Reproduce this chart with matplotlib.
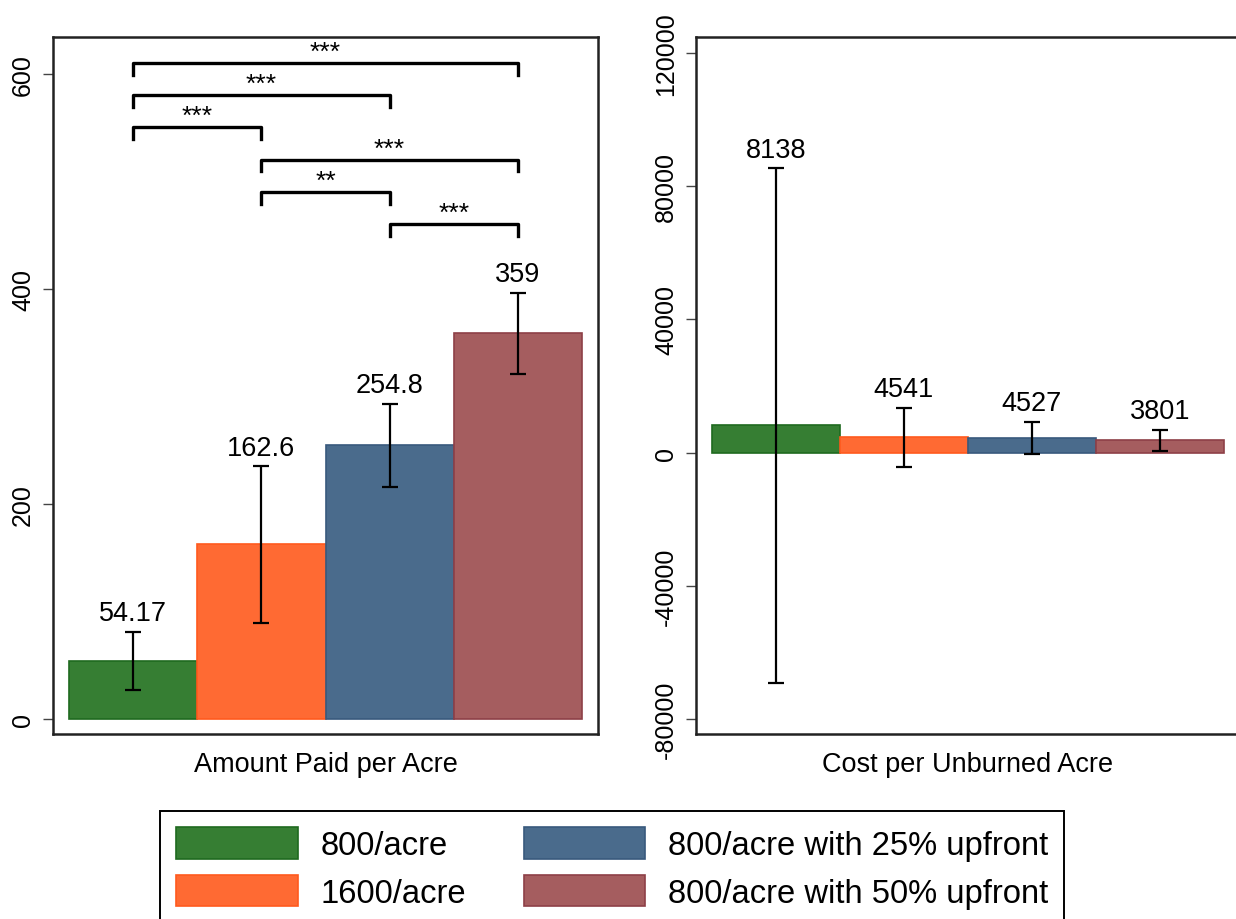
import matplotlib.pyplot as plt

plt.rcParams['font.family'] = ['Liberation Sans', 'DejaVu Sans']

groups = ["800/acre", "1600/acre", "800/acre with 25% upfront", "800/acre with 50% upfront"]
fills = ["#367E33", "#FF6A33", "#4A6B8C", "#A55D5F"]
edges = ["#1F6A1F", "#FF5A1E", "#38597D", "#8E3F47"]

# left panel: amount paid per acre
paid = [54.17, 162.6, 254.8, 359]
paid_lo = [27, 89, 216, 321]
paid_hi = [81, 235, 293, 396]
paid_labels = ["54.17", "162.6", "254.8", "359"]

# significance brackets (from, to, height, stars)
br_from = [0, 0, 0, 1, 1, 2]
br_to = [3, 2, 1, 3, 2, 3]
br_level = [610, 580, 550, 520, 490, 460]
br_stars = ["***", "***", "***", "***", "**", "***"]

# right panel: cost per unburned acre
cost = [8138, 4541, 4527, 3801]
cost_lo = [-69200, -4200, -300, 600]
cost_hi = [85400, 13500, 9300, 6900]
cost_labels = ["8138", "4541", "4527", "3801"]

fig = plt.figure(figsize=(12.36, 9.2), dpi=100)
ax1 = fig.add_axes([0.0429, 0.2011, 0.4409, 0.7576])
ax2 = fig.add_axes([0.5631, 0.2011, 0.4401, 0.7576])

x = range(4)


def panel(ax, vals, lo, hi, labels):
    bars = ax.bar(x, vals, width=1.0, color=fills, edgecolor=edges, linewidth=1.2)
    yerr = [[v - l for v, l in zip(vals, lo)], [h - v for v, h in zip(vals, hi)]]
    ax.errorbar(x, vals, yerr=yerr, fmt="none", ecolor="black", elinewidth=1.6,
                capsize=6, capthick=1.6)
    for xi, h, t in zip(x, hi, labels):
        ax.annotate(t, (xi, h), xytext=(0, 4), textcoords="offset points",
                    ha="center", va="bottom", fontsize=19.5)
    ax.set_xticks([])
    ax.set_xlim(-0.625, 3.625)
    ax.tick_params(axis="y", direction="out", length=7, width=1.0, color="#444444",
                   labelsize=18, pad=6)
    for s in ax.spines.values():
        s.set_linewidth(1.8)
        s.set_color("#222222")
    return bars


def rotate_ticks(ax):
    for lab in ax.get_yticklabels():
        lab.set_rotation(90)
        lab.set_va("center")


bars = panel(ax1, paid, paid_lo, paid_hi, paid_labels)
ax1.set_ylim(-14, 634)
ax1.set_yticks([0, 200, 400, 600])
rotate_ticks(ax1)
ax1.set_xlabel("Amount Paid per Acre", fontsize=19.5, labelpad=12)

for a, b, lev, st in zip(br_from, br_to, br_level, br_stars):
    ax1.plot([a, a, b, b], [lev - 11, lev, lev, lev - 11], color="black",
             lw=2.4, solid_joinstyle="round")
    ax1.annotate(st, ((a + b) / 2, lev), xytext=(0, 8), textcoords="offset points",
                 ha="center", va="center", fontsize=19)

panel(ax2, cost, cost_lo, cost_hi, cost_labels)
ax2.set_ylim(-84500, 124800)
ax2.set_yticks([-80000, -40000, 0, 40000, 80000, 120000])
ax2.set_yticklabels(["-80000", "-40000", "0", "40000", "80000", "120000"])
rotate_ticks(ax2)
ax2.set_xlabel("Cost per Unburned Acre", fontsize=19.5, labelpad=12)

leg = fig.legend(bars, groups, ncol=2, loc="upper left",
                 bbox_to_anchor=(0.1294, 0.1174), fontsize=23.6,
                 handlelength=3.7, handleheight=1.1, handletextpad=0.7,
                 columnspacing=1.75, labelspacing=0.42, borderpad=0.5,
                 borderaxespad=0, fancybox=False, framealpha=1)
leg.get_frame().set_edgecolor("black")
leg.get_frame().set_linewidth(1.4)

fig.savefig("out.png", dpi=100)
